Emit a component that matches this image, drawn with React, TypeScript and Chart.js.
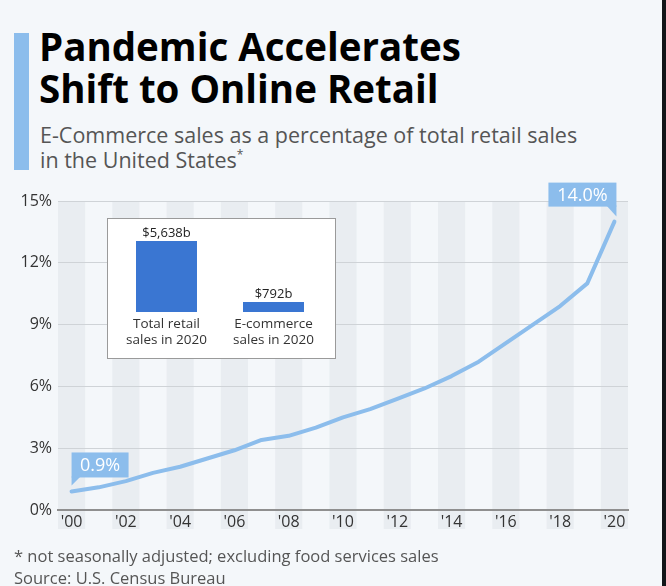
import React, { useEffect, useRef } from "react";
import { Chart, registerables } from "chart.js";

Chart.register(...registerables);

const years = [2000, 2001, 2002, 2003, 2004, 2005, 2006, 2007, 2008, 2009, 2010, 2011, 2012, 2013, 2014, 2015, 2016, 2017, 2018, 2019, 2020];
const ecommerceShare = [0.9, 1.1, 1.4, 1.8, 2.1, 2.5, 2.9, 3.4, 3.6, 4.0, 4.5, 4.9, 5.4, 5.9, 6.5, 7.2, 8.1, 9.0, 9.9, 11.0, 14.0];
const yTicks = [0, 3, 6, 9, 12, 15];

const insetLabels = [["Total retail", "sales in 2020"], ["E-commerce", "sales in 2020"]];
const insetValues = [5638, 792];

const FONT = "'Open Sans', 'Noto Sans', sans-serif";
const BLUE_LINE = "#8cbdec";
const BAR_BLUE = "#3a76d2";

export default function App() {
  const mainRef = useRef<HTMLCanvasElement>(null);
  const insetRef = useRef<HTMLCanvasElement>(null);

  useEffect(() => {
    const bandPlugin = {
      id: "bands",
      beforeDraw(chart: any) {
        const { ctx, chartArea } = chart;
        const xs = chart.scales.x;
        const w = chartArea.width / years.length;
        ctx.save();
        ctx.fillStyle = "#e9edf1";
        years.forEach((_, i) => {
          if (i % 2 === 0) {
            const cx = xs.getPixelForValue(i);
            ctx.fillRect(cx - w / 2, chartArea.top, w, chartArea.bottom - chartArea.top + 19);
          }
        });
        ctx.restore();
      },
    };

    const calloutPlugin = {
      id: "callouts",
      afterDatasetsDraw(chart: any) {
        const { ctx } = chart;
        const meta = chart.getDatasetMeta(0);
        const first = meta.data[0];
        const last = meta.data[meta.data.length - 1];
        ctx.save();
        ctx.font = `18px ${FONT}`;
        ctx.textAlign = "center";
        ctx.textBaseline = "middle";

        {
          const px = first.x, py = first.y;
          const bx = px, bw = 57, bh = 25, by = py - 14 - bh;
          ctx.fillStyle = BLUE_LINE;
          ctx.fillRect(bx, by, bw, bh);
          ctx.beginPath();
          ctx.moveTo(bx, by + bh - 1);
          ctx.lineTo(bx + 9, by + bh - 1);
          ctx.lineTo(bx, by + bh + 8);
          ctx.closePath();
          ctx.fill();
          ctx.fillStyle = "#ffffff";
          ctx.fillText(ecommerceShare[0].toFixed(1) + "%", bx + bw / 2, by + bh / 2 + 1);
        }
        {
          const px = last.x, py = last.y;
          const bw = 68, bh = 24;
          const bx = px + 2 - bw, by = py - 15 - bh;
          ctx.fillStyle = BLUE_LINE;
          ctx.fillRect(bx, by, bw, bh);
          ctx.beginPath();
          ctx.moveTo(bx + bw, by + bh - 1);
          ctx.lineTo(bx + bw - 10, by + bh - 1);
          ctx.lineTo(bx + bw, by + bh + 10);
          ctx.closePath();
          ctx.fill();
          ctx.fillStyle = "#ffffff";
          ctx.fillText(ecommerceShare[ecommerceShare.length - 1].toFixed(1) + "%", bx + bw / 2, by + bh / 2 + 1);
        }
        ctx.restore();
      },
    };

    const main = new Chart(mainRef.current!, {
      type: "line",
      data: {
        labels: years.map(String),
        datasets: [
          {
            data: ecommerceShare,
            borderColor: BLUE_LINE,
            borderWidth: 4,
            pointRadius: 0,
            tension: 0,
            fill: false,
            borderJoinStyle: "round",
            borderCapStyle: "round",
          },
        ],
      },
      options: {
        animation: false,
        responsive: false,
        maintainAspectRatio: false,
        layout: { padding: { left: 0, right: 34, top: 31, bottom: 0 } },
        plugins: { legend: { display: false }, tooltip: { enabled: false } },
        scales: {
          x: {
            type: "category",
            offset: true,
            grid: { display: false, drawTicks: false },
            border: { display: true, color: "#8f8f8f", width: 2 },
            ticks: {
              autoSkip: false,
              maxRotation: 0,
              padding: 3,
              color: "#333333",
              font: { family: FONT, size: 16 },
              callback: (_v: any, i: number) => (i % 2 === 0 ? "'" + String(years[i]).slice(2) : ""),
            },
            afterFit: (s: any) => { s.height = 40; },
          },
          y: {
            min: 0,
            max: 15,
            afterBuildTicks: (s: any) => { s.ticks = yTicks.map((v) => ({ value: v })); },
            grid: { color: "#cfd3d7", lineWidth: 1, drawTicks: false },
            border: { display: false },
            ticks: {
              padding: 6,
              color: "#333333",
              font: { family: FONT, size: 16 },
              callback: (v: any) => v + "%",
            },
            afterFit: (s: any) => { s.width = 58; },
          },
        },
      },
      plugins: [bandPlugin, calloutPlugin],
    } as any);

    const boxPlugin = {
      id: "box",
      beforeDraw(chart: any) {
        const { ctx, width, height } = chart;
        ctx.save();
        ctx.fillStyle = "#ffffff";
        ctx.fillRect(0, 0, width, height);
        ctx.strokeStyle = "#9a9a9a";
        ctx.lineWidth = 1;
        ctx.strokeRect(0.5, 0.5, width - 1, height - 1);
        ctx.restore();
      },
      afterDatasetsDraw(chart: any) {
        const { ctx } = chart;
        const meta = chart.getDatasetMeta(0);
        ctx.save();
        ctx.fillStyle = "#222222";
        ctx.font = `13px ${FONT}`;
        ctx.textAlign = "center";
        ctx.textBaseline = "alphabetic";
        meta.data.forEach((bar: any, i: number) => {
          ctx.fillText("$" + insetValues[i].toLocaleString("en-US") + "b", bar.x, bar.y - 4);
        });
        ctx.restore();
      },
    };

    const inset = new Chart(insetRef.current!, {
      type: "bar",
      data: {
        labels: insetLabels,
        datasets: [
          {
            data: insetValues,
            backgroundColor: BAR_BLUE,
            borderWidth: 0,
            barPercentage: 0.57,
            categoryPercentage: 1,
          },
        ],
      },
      options: {
        animation: false,
        responsive: false,
        maintainAspectRatio: false,
        layout: { padding: { left: 6, right: 9, top: 23, bottom: 0 } },
        plugins: { legend: { display: false }, tooltip: { enabled: false } },
        scales: {
          x: {
            grid: { display: false, drawTicks: false },
            border: { display: false },
            ticks: {
              padding: 5,
              color: "#333333",
              font: { family: FONT, size: 13.5, lineHeight: 1.12 },
              maxRotation: 0,
            },
            afterFit: (s: any) => { s.height = 47; },
          },
          y: { display: false, min: 0, max: insetValues[0] },
        },
      },
      plugins: [boxPlugin],
    } as any);

    return () => {
      main.destroy();
      inset.destroy();
    };
  }, []);

  return (
    <div
      style={{
        position: "fixed",
        left: 0,
        top: 0,
        width: 666,
        height: 586,
        background: "#f4f7fa",
        overflow: "hidden",
        fontFamily: FONT,
      }}
    >
      <div style={{ position: "absolute", left: 662, top: 0, width: 4, height: 586, background: "#121518" }} />
      <div style={{ position: "absolute", left: 14, top: 33, width: 15, height: 137, background: "#8cbdec" }} />
      <div
        style={{
          position: "absolute",
          left: 39,
          top: 25,
          fontSize: 38.5,
          fontWeight: 700,
          lineHeight: "42px",
          color: "#000",
          whiteSpace: "nowrap",
        }}
      >
        Pandemic Accelerates
        <br />
        Shift to Online Retail
      </div>
      <div
        style={{
          position: "absolute",
          left: 40,
          top: 123,
          fontSize: 21.5,
          lineHeight: "24.5px",
          color: "#555",
          whiteSpace: "nowrap",
        }}
      >
        E-Commerce sales as a percentage of total retail sales
        <br />
        in the United States<sup style={{ fontSize: 12, verticalAlign: "top", lineHeight: "14px" }}>*</sup>
      </div>
      <canvas
        ref={mainRef}
        width={662}
        height={380}
        style={{ position: "absolute", left: 0, top: 170, width: 662, height: 380 }}
      />
      <canvas
        ref={insetRef}
        width={229}
        height={141}
        style={{ position: "absolute", left: 107, top: 218, width: 229, height: 141 }}
      />
      <div
        style={{
          position: "absolute",
          left: 14,
          top: 545,
          fontSize: 16.5,
          lineHeight: "22px",
          color: "#555",
          whiteSpace: "nowrap",
        }}
      >
        * not seasonally adjusted; excluding food services sales
        <br />
        Source: U.S. Census Bureau
      </div>
    </div>
  );
}
